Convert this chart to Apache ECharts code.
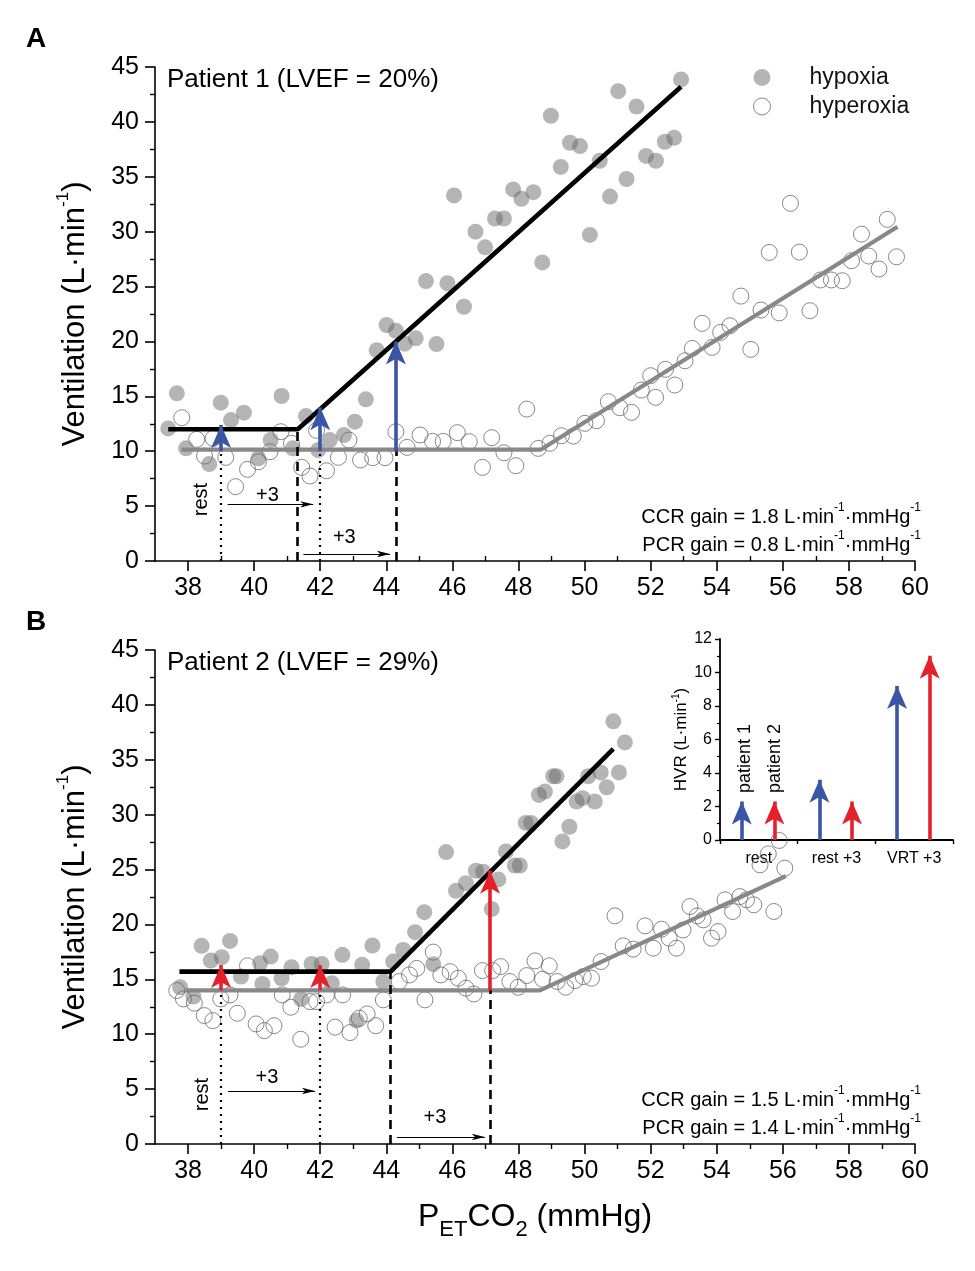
<!DOCTYPE html>
<html>
<head>
<meta charset="utf-8">
<script src="https://cdn.jsdelivr.net/npm/echarts@6/dist/echarts.min.js"></script>
<style>html,body{margin:0;padding:0;background:#fff}#c{width:975px;height:1271px}</style>
</head>
<body>
<div id="c"></div>
<script>
const FONT = '"Liberation Sans", Arial, Helvetica, sans-serif';

// ---------------- Panel A : Patient 1 ----------------
const aHypoxia = [
 [37.40,12.08],[37.66,15.27],[37.94,10.26],[38.64,8.83],[38.99,14.42],[39.30,12.84],[39.69,13.51],
 [40.13,9.35],[40.50,11.02],[40.83,15.03],[41.17,10.26],[41.57,13.20],[41.94,10.10],[42.29,11.02],
 [42.72,11.48],[43.05,12.69],[43.38,14.73],[43.71,19.20],[44.01,21.50],[44.29,20.97],[44.56,19.80],
 [44.89,20.28],[45.20,25.50],[45.52,19.76],[45.85,25.30],[46.05,33.30],[46.35,23.16],[46.70,30.00],
 [46.99,28.57],[47.29,31.20],[47.56,31.20],[47.84,33.85],[48.09,33.00],[48.45,33.60],[48.72,27.20],
 [48.98,40.56],[49.28,35.90],[49.56,38.10],[49.86,37.80],[50.16,29.70],[50.46,36.46],[50.77,33.20],
 [51.02,42.80],[51.27,34.80],[51.57,41.40],[51.86,36.90],[52.16,36.46],[52.43,38.19],[52.71,38.55],
 [52.92,43.87]
];
const aHyperoxia = [
 [37.81,13.05],[38.26,11.08],[38.76,11.17],[38.50,9.56],[39.14,9.44],[39.44,6.77],[39.80,8.35],
 [40.13,9.04],[40.48,9.95],[40.81,11.78],[41.13,10.72],[41.44,8.53],[41.69,7.74],[41.89,11.90],
 [42.19,8.22],[42.55,9.44],[42.87,11.02],[43.22,9.20],[43.59,9.41],[43.96,9.41],[44.29,11.78],
 [44.63,10.35],[45.02,11.48],[45.40,10.90],[45.72,10.90],[46.15,11.69],[46.51,10.87],[46.91,8.53],
 [47.19,11.23],[47.56,9.86],[47.92,8.68],[48.25,13.84],[48.60,10.26],[48.95,10.72],[49.30,11.41],
 [49.66,11.38],[50.01,12.54],[50.36,12.78],[50.72,14.51],[51.07,13.96],[51.42,13.54],[51.72,15.57],
 [52.00,16.88],[52.15,14.91],[52.45,17.46],[52.73,16.03],[53.04,18.24],[53.26,19.37],[53.56,21.65],
 [53.86,19.46],[54.12,20.83],[54.40,21.43],[54.73,24.13],[55.03,19.28],[55.34,22.86],[55.59,28.11],
 [55.89,22.60],[56.23,32.58],[56.50,28.14],[56.82,22.80],[57.14,25.60],[57.47,25.60],[57.80,25.53],
 [58.08,27.35],[58.38,29.78],[58.60,27.78],[58.91,26.60],[59.16,31.12],[59.44,27.71]
];
const aHypoxiaFit = [[37.40,12.0],[41.32,12.0],[52.92,43.2]];
const aHyperoxiaFit = [[37.80,10.15],[48.68,10.15],[59.47,30.45]];
const aHvrArrows = [[39.00,10,12.4],[42.00,10,14.0],[44.29,10,20.0]];        // x, from, tip
const aGuides = [[39.00,10,'dot'],[42.00,10,'dot'],[41.32,12,'dash'],[44.29,10,'dash']]; // x, top, style
const aShifts = [[39.20,5.16,41.79],[41.49,0.64,44.11]];                     // xStart, y, xTip
const aShiftLabels = [[40.40,6.0],[42.73,2.1]];
const aRestLabel = [38.42,5.6];
const aTitle = 'Patient 1 (LVEF = 20%)';
const aGains = ['1.8','0.8'];

// ---------------- Panel B : Patient 2 ----------------
const bHypoxia = [
 [37.76,14.28],[38.16,13.43],[38.41,18.05],[38.69,16.71],[39.02,17.02],[39.27,18.50],[39.60,15.25],
 [40.18,16.47],[40.25,14.58],[40.50,17.07],[40.83,15.10],[41.13,16.10],[41.42,13.20],[41.74,16.40],
 [42.04,16.40],[42.35,14.65],[42.67,17.23],[43.10,11.24],[43.27,16.32],[43.58,18.08],[43.91,14.80],
 [44.21,16.62],[44.51,17.68],[44.87,19.30],[45.15,21.12],[45.42,16.38],[45.81,26.59],[46.11,23.06],
 [46.41,23.76],[46.71,24.90],[46.93,24.80],[47.19,21.40],[47.39,24.10],[47.62,26.65],[47.89,25.37],
 [48.04,25.37],[48.22,29.25],[48.38,29.25],[48.62,31.80],[48.80,32.10],[49.05,33.50],[49.15,33.50],
 [49.33,27.56],[49.54,28.90],[49.76,31.20],[49.94,31.50],[50.11,33.50],[50.31,31.20],[50.49,33.85],
 [50.67,32.50],[50.87,38.50],[51.04,33.85],[51.22,36.58]
];
const bHyperoxia = [
 [37.66,13.98],[37.86,13.22],[38.19,12.83],[38.49,11.70],[38.75,11.24],[38.99,13.22],[39.27,13.58],
 [39.49,11.91],[39.80,16.23],[40.06,10.94],[40.31,10.33],[40.60,10.78],[40.85,13.58],[41.11,12.46],
 [41.41,9.54],[41.69,12.97],[41.89,12.97],[42.19,13.58],[42.45,10.64],[42.68,13.58],[42.90,10.15],
 [43.18,11.46],[43.42,11.85],[43.68,10.78],[43.91,13.13],[44.39,14.80],[44.70,15.40],[44.92,16.00],
 [45.17,13.13],[45.42,17.48],[45.65,15.40],[45.93,15.70],[46.18,15.10],[46.41,14.19],[46.65,13.67],
 [46.91,15.80],[47.22,15.80],[47.46,16.16],[47.74,14.80],[47.99,14.28],[48.25,15.34],[48.50,16.68],
 [48.73,15.01],[48.93,16.23],[49.17,14.80],[49.43,14.28],[49.71,14.89],[49.96,15.25],[50.21,15.10],
 [50.50,16.62],[50.92,20.78],[51.17,18.05],[51.47,17.75],[51.83,19.87],[52.08,17.84],[52.33,19.57],
 [52.56,18.75],[52.78,17.84],[52.98,19.50],[53.19,21.63],[53.41,20.78],[53.59,20.42],[53.84,18.75],
 [54.04,19.35],[54.25,22.24],[54.48,21.18],[54.70,22.54],[54.90,22.24],[55.12,21.79],[55.31,25.43],
 [55.56,26.43],[55.73,21.18],[55.89,27.65],[56.06,25.13]
];
const bHypoxiaFit = [[37.74,15.7],[44.13,15.7],[50.87,36.0]];
const bHyperoxiaFit = [[37.94,14.0],[48.65,14.0],[56.09,24.4]];
const bHvrArrows = [[39.00,14,16.3],[42.00,14,16.3],[47.14,14,24.9]];
const bGuides = [[39.00,14,'dot'],[42.00,14,'dot'],[44.13,15.7,'dash'],[47.14,14,'dash']];
const bShifts = [[39.21,4.83,41.84],[44.32,0.64,46.98]];
const bShiftLabels = [[40.39,6.1],[45.47,2.4]];
const bRestLabel = [38.45,4.5];
const bTitle = 'Patient 2 (LVEF = 29%)';
const bGains = ['1.5','1.4'];

// ---------------- Inset : HVR ----------------
const hvrCategories = ['rest','rest +3','VRT +3'];
const hvrPatient1 = [2.3, 3.6, 9.2];
const hvrPatient2 = [2.3, 2.3, 11.0];

// ---------------- Axes ticks ----------------
const xTickLabels = [38,40,42,44,46,48,50,52,54,56,58,60];
const xMinorTicks = [39,41,43,45,47,49,51,53,55,57,59];

// ---------------- Layout / style ----------------
const GRIDS = [{left:155, top:67, width:760, height:494}, {left:155, top:650, width:760, height:494}];
const INSET = {left:720, top:639, width:233, height:201};
const BLUE = '#3a55a5', RED = '#e4202a';
const HEAD = 23, HEAD_W = 15, SMALL_HEAD = 13, SMALL_W = 4.8;
const supRich = (fs, lh, sfs) => ({
  n:{fontSize:fs, fontFamily:FONT, color:'#000', lineHeight:lh},
  sup:{fontSize:sfs, fontFamily:FONT, color:'#000', lineHeight:Math.round(sfs*0.8), verticalAlign:'top'},
  sub:{fontSize:sfs, fontFamily:FONT, color:'#000', lineHeight:9, verticalAlign:'bottom'}
});

function mainXAxes(g, minorInside, withName) {
  const main = {
    type:'value', gridIndex:g, min:37, max:60, interval:1,
    axisLine:{show:true, onZero:false, lineStyle:{color:'#000', width:1.6}},
    axisTick:{show:true, customValues:xMinorTicks, inside:minorInside, length:5, lineStyle:{color:'#000', width:1.4}},
    axisLabel:{customValues:xTickLabels, fontSize:25, fontFamily:FONT, color:'#000', margin:15},
    splitLine:{show:false}
  };
  if (withName) {
    main.name = '{n|P}{sub|ET}{n|CO}{sub|2}{n| (mmHg)}';
    main.nameLocation = 'middle';
    main.nameGap = 50;
    main.nameTextStyle = {rich:supRich(32, 47, 22)};
  }
  const major = {
    type:'value', gridIndex:g, min:37, max:60, interval:1, position:'bottom',
    axisLine:{show:false, onZero:false},
    axisTick:{show:true, customValues:xTickLabels, length:10, lineStyle:{color:'#000', width:1.6}},
    axisLabel:{show:false}, splitLine:{show:false}
  };
  return [main, major];
}
function mainYAxis(g) {
  return {
    type:'value', gridIndex:g, min:0, max:45, interval:5,
    name:'{n|Ventilation (L·min}{sup|-1}{n|)}', nameLocation:'middle', nameGap:60,
    nameTextStyle:{rich:supRich(31, 40, 17)},
    axisLine:{show:true, onZero:false, lineStyle:{color:'#000', width:1.6}},
    axisTick:{show:true, length:10, lineStyle:{color:'#000', width:1.6}},
    minorTick:{show:true, splitNumber:2, length:5, lineStyle:{color:'#000', width:1.4}},
    axisLabel:{fontSize:25, fontFamily:FONT, color:'#000', margin:16},
    splitLine:{show:false}, minorSplitLine:{show:false}
  };
}

function panelSeries(xi, yi, hyp, hyper, hypFit, hyperFit, arrows, guides, shifts, color) {
  return [
    {type:'scatter', name:'hypoxia', xAxisIndex:xi, yAxisIndex:yi, data:hyp, symbol:'circle', symbolSize:16,
     itemStyle:{color:'rgba(105,105,105,0.62)'}, z:2, silent:true},
    {type:'scatter', name:'hyperoxia', xAxisIndex:xi, yAxisIndex:yi, data:hyper, symbol:'circle', symbolSize:16,
     itemStyle:{color:'rgba(0,0,0,0)', borderColor:'#6a6a6a', borderWidth:1}, z:2, silent:true},
    {type:'line', name:'hypoxia fit', xAxisIndex:xi, yAxisIndex:yi, data:hypFit, symbol:'none',
     lineStyle:{color:'#000', width:4.6}, z:3, silent:true},
    {type:'line', name:'hyperoxia fit', xAxisIndex:xi, yAxisIndex:yi, data:hyperFit, symbol:'none',
     lineStyle:{color:'#888', width:4.2}, z:3, silent:true},
    {type:'line', name:'guides', xAxisIndex:xi, yAxisIndex:yi, data:[], z:4, silent:true,
     markLine:{silent:true, symbol:['none','none'], label:{show:false}, animation:false,
       data:guides.map(([x, top, st]) => [
         {coord:[x, 0], lineStyle:{color:'#000', width: st==='dash'?2.6:2.2, type: st==='dash'?[9,6]:[2,5]}},
         {coord:[x, top]}])}},
    {type:'line', name:'shifts', xAxisIndex:xi, yAxisIndex:yi, data:[], z:4, silent:true,
     markLine:{silent:true, symbol:['none','arrow'], symbolSize:[SMALL_W, SMALL_HEAD], label:{show:false}, animation:false,
       lineStyle:{color:'#000', width:1.1, type:'solid'},
       data:shifts.map(([x0, y, xt]) => [{coord:[x0, y]}, {coord:[xt, y]}])}},
    {type:'line', name:'hvr arrows', xAxisIndex:xi, yAxisIndex:yi, data:[], z:5, silent:true,
     markLine:{silent:true, symbol:['none','arrow'], symbolSize:[HEAD_W, HEAD], label:{show:false}, animation:false,
       lineStyle:{color:color, width:3.6, type:'solid'},
       data:arrows.map(([x, from, tip]) => [{coord:[x, from]}, {coord:[x, tip]}])}}
  ];
}

function insetArrows(vals, offset, color) {
  return {type:'line', xAxisIndex:4, yAxisIndex:2, data:[], z:6, silent:true,
    markLine:{silent:true, symbol:['none','arrow'], symbolSize:[HEAD_W, HEAD], label:{show:false}, animation:false,
      lineStyle:{color:color, width:3.6, type:'solid'},
      data:vals.map((v, i) => [{coord:[i + 0.5 + offset, 0]}, {coord:[i + 0.5 + offset, v]}])}};
}

const chart = echarts.init(document.getElementById('c'), null, {renderer:'canvas'});

const option = {
  backgroundColor:'#fff',
  animation:false,
  textStyle:{fontFamily:FONT},
  grid:[GRIDS[0], GRIDS[1], INSET].map(g => Object.assign({containLabel:false}, g)),
  legend:{
    left:748, top:61, orient:'vertical', itemWidth:17, itemHeight:17, itemGap:6, selectedMode:false,
    textStyle:{fontSize:23, fontFamily:FONT, color:'#111', padding:[0,0,0,34]},
    data:[
      {name:'hypoxia', icon:'circle', itemStyle:{color:'rgba(105,105,105,0.62)'}},
      {name:'hyperoxia', icon:'circle', itemStyle:{color:'rgba(0,0,0,0)', borderColor:'#6a6a6a', borderWidth:1}}
    ]
  },
  xAxis:[
    ...mainXAxes(0, true, false),
    ...mainXAxes(1, false, true),
    {type:'value', gridIndex:2, min:0, max:3, interval:1,
     axisLine:{show:true, onZero:false, lineStyle:{color:'#000', width:1.8}},
     axisTick:{show:true, length:4, lineStyle:{color:'#000', width:1.4}},
     axisLabel:{customValues:[0.5,1.5,2.5], formatter:v => hvrCategories[Math.floor(v)] || '',
       fontSize:16, fontFamily:FONT, color:'#000', margin:11},
     splitLine:{show:false}}
  ],
  yAxis:[
    mainYAxis(0), mainYAxis(1),
    {type:'value', gridIndex:2, min:0, max:12, interval:2,
     name:'{n|HVR (L·min}{sup|-1}{n|)}', nameLocation:'middle', nameGap:24,
     nameTextStyle:{rich:supRich(17, 22, 10)},
     axisLine:{show:true, onZero:false, lineStyle:{color:'#000', width:1.8}},
     axisTick:{show:true, length:5, lineStyle:{color:'#000', width:1.4}},
     minorTick:{show:true, splitNumber:2, length:3, lineStyle:{color:'#000', width:1.2}},
     axisLabel:{fontSize:16, fontFamily:FONT, color:'#000', margin:8},
     splitLine:{show:false}, minorSplitLine:{show:false}}
  ],
  series:[
    ...panelSeries(0, 0, aHypoxia, aHyperoxia, aHypoxiaFit, aHyperoxiaFit, aHvrArrows, aGuides, aShifts, BLUE),
    ...panelSeries(2, 1, bHypoxia, bHyperoxia, bHypoxiaFit, bHyperoxiaFit, bHvrArrows, bGuides, bShifts, RED),
    insetArrows(hvrPatient1, -0.22, BLUE),
    insetArrows(hvrPatient2, 0.20, RED)
  ]
};
chart.setOption(option);

// ---------------- Text annotations ----------------
const toPx = (xi, yi, pt) => chart.convertToPixel({xAxisIndex:xi, yAxisIndex:yi}, pt);
function text(x, y, str, fs, opt) {
  opt = opt || {};
  return {type:'text', x:x, y:y, rotation:opt.rot || 0, silent:true, z:100,
    style:Object.assign({text:str, fontSize:fs, fontFamily:FONT, fill:'#000',
      align:opt.align || 'center', verticalAlign:opt.va || 'middle', fontWeight:opt.bold ? 'bold' : 'normal'},
      opt.rich ? {rich:opt.rich} : {})};
}
const gainRich = supRich(20, 30, 12);
const gainText = (name, v) => `{n|${name} gain = ${v} L·min}{sup|-1}{n|·mmHg}{sup|-1}`;
const graphics = [];
[[0, 0, GRIDS[0], aTitle, aGains, aShiftLabels, aRestLabel, 'A'],
 [2, 1, GRIDS[1], bTitle, bGains, bShiftLabels, bRestLabel, 'B']].forEach(([xi, yi, g, title, gains, shiftLabels, restLabel, letter]) => {
  graphics.push(text(26, g.top - 28, letter, 28, {align:'left', bold:true}));
  graphics.push(text(g.left + 12, g.top + 13, title, 26, {align:'left'}));
  graphics.push(text(g.left + g.width + 6, g.top + g.height - 44, gainText('CCR', gains[0]), 20, {align:'right', rich:gainRich}));
  graphics.push(text(g.left + g.width + 6, g.top + g.height - 16, gainText('PCR', gains[1]), 20, {align:'right', rich:gainRich}));
  shiftLabels.forEach(p => { const q = toPx(xi, yi, p); graphics.push(text(q[0], q[1], '+3', 20)); });
  const r = toPx(xi, yi, restLabel);
  graphics.push(text(r[0], r[1], 'rest', 20, {rot:Math.PI/2}));
});
[['patient 1', -0.22 + 0.04], ['patient 2', 0.20 + 0.01]].forEach(([s, off]) => {
  const q = toPx(4, 2, [0.5 + off, 2.8]);
  graphics.push(text(q[0], q[1], s, 18, {rot:Math.PI/2, align:'left'}));
});
chart.setOption({graphic:graphics});
</script>
</body>
</html>
